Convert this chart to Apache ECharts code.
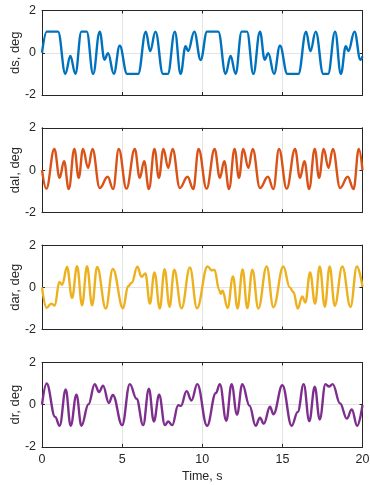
<!DOCTYPE html>
<html>
<head>
<meta charset="utf-8">
<script src="https://cdn.jsdelivr.net/npm/echarts@6/dist/echarts.min.js"></script>
<style>
html, body { margin: 0; padding: 0; background: #fff; }
#main { width: 370px; height: 485px; }
</style>
</head>
<body>
<div id="main"></div>
<script>
// turning points of each control signal (time in s, angle in deg)
var dsTime = [0, 0.3, 1.0, 1.46, 1.77, 2.08, 2.46, 2.79, 3.19, 3.6, 3.9, 4.12, 4.48, 4.85, 5.31, 6.0, 6.48, 6.75, 7.08, 7.55, 7.85, 8.29, 8.65, 8.96, 9.12, 9.5, 9.9,
  10.3, 11.0, 11.46, 11.77, 12.08, 12.46, 12.79, 13.19, 13.6, 13.9, 14.12, 14.48, 14.85, 15.31, 16.0, 16.48, 16.75, 17.08, 17.55, 17.85, 18.29, 18.65, 18.96, 19.12, 19.5, 19.87, 20];
var dsValue = [0, 1, 1, -1, -0.15, -1, 1, 1, -1, 1, -0.33, -0.02, -1, 0.33, -1, -1, 1, 0.08, 1, -1, -1, 1, -1, 0.31, 0.08, 1, -0.34,
  1, 1, -1, -0.15, -1, 1, 1, -1, 1, -0.33, -0.02, -1, 0.33, -1, -1, 1, 0.08, 1, -1, -1, 1, -1, 0.31, 0.08, 1, -0.33, -0.17];

var dalTime = [0, 0.27, 0.77, 1.1, 1.375, 1.67, 2.02, 2.29, 2.56, 2.875, 3.15, 3.6, 4.1, 4.44, 4.79,
  5.27, 5.79, 6.1, 6.375, 6.67, 7.02, 7.29, 7.58, 7.875, 8.15, 8.6, 9.08, 9.44, 9.77,
  10.27, 10.77, 11.1, 11.375, 11.67, 12.02, 12.29, 12.56, 12.875, 13.15, 13.6, 14.1, 14.44, 14.79,
  15.27, 15.79, 16.1, 16.375, 16.67, 17.02, 17.29, 17.58, 17.875, 18.15, 18.6, 19.08, 19.44, 19.77, 20];
var dalValue = [0, -0.88, 1, -0.37, 0.42, -0.9, 1, -0.37, 1, 0.1, 1, -0.85, -0.32, -0.9, 1,
  -0.88, 1, -0.37, 0.42, -0.9, 1, -0.37, 1, 0.1, 1, -0.85, -0.32, -0.9, 1,
  -0.88, 1, -0.37, 0.42, -0.9, 1, -0.37, 1, 0.1, 1, -0.85, -0.32, -0.9, 1,
  -0.88, 1, -0.37, 0.42, -0.9, 1, -0.37, 1, 0.1, 1, -0.85, -0.32, -0.9, 1, 0];

var darTime = [0, 0.29, 0.57, 0.8, 1.08, 1.26, 1.56, 1.875, 2.19, 2.5, 2.81, 3.125, 3.44, 3.98, 4.42, 5.06, 5.37, 5.6, 5.95, 6.21, 6.45, 6.73, 7.02, 7.35, 7.65, 7.96, 8.25, 8.71, 9.23, 9.67,
  10.33, 10.6, 10.76, 11.06, 11.15, 11.27, 11.58, 11.92, 12.2, 12.52, 12.81, 13.125, 13.5, 14.02, 14.44, 15.06, 15.46, 15.69, 15.96, 16.24, 16.43, 16.73, 17.04, 17.33, 17.65, 17.95, 18.27, 18.74, 19.25, 19.65, 20];
var darValue = [0, -0.97, -0.77, -0.86, 0.26, 0.12, 0.97, -0.5, 1, -0.85, 1, -0.85, 0.97, -1, 0.87, -0.99, 0.05, 0.22, 0.98, 0.5, 0.66, -0.77, 0.71, -1, 0.86, -0.92, 0.83, -0.99, 0.94, -0.99,
  0.99, 0.8, 0.84, -0.13, -0.3, -0.16, -0.98, 0.52, -1, 0.85, -0.98, 0.84, -1, 0.99, -0.94, 0.99, 0, -0.22, -1, -0.43, -0.72, 0.7, -0.77, 0.99, -0.92, 0.99, -0.87, 0.99, -0.92, 0.99, 0.03];

var drTime = [0, 0.29, 0.82, 1.1, 1.48, 1.79, 2.15, 2.46, 2.9, 3.29, 3.56, 3.81, 4.17, 4.42, 5.0, 5.48, 5.9, 6.31, 6.67, 6.98, 7.31, 7.67, 7.875, 8.125, 8.5, 8.67, 9.02, 9.33, 9.69,
  10.3, 10.85, 11.1, 11.5, 11.83, 12.17, 12.5, 12.95, 13.33, 13.6, 13.84, 14.23, 14.44, 15.0, 15.58, 15.96, 16.33, 16.68, 17.02, 17.33, 17.69, 17.91, 18.14, 18.6, 19.02, 19.33, 19.67, 20];
var drValue = [0, 1, -0.58, -1, 0.72, -1, 0.47, -1, 0.02, 0.97, 0.6, 0.9, 0.08, 0.46, -0.97, 0.97, 0.28, -0.97, 0.75, -0.8, 0.47, -0.97, -0.8, -0.97, -0.03, -0.06, 0.64, 0.2, 0.97,
  -1, 0.55, 0.97, -0.76, 0.97, -0.47, 0.97, -0.05, -1, -0.62, -0.9, -0.1, -0.46, 0.92, -1, -0.34, 0.97, -0.78, 0.85, -0.7, 0.97, 0.86, 0.97, 0.06, -0.66, -0.23, -1, -0.02];

var labels = ['ds, deg', 'dal, deg', 'dar, deg', 'dr, deg'];
var colors = ['#0072BD', '#D95319', '#EDB120', '#7E2F8E'];
var xTicks = [0, 5, 10, 15, 20];
var yTicks = [-2, 0, 2];

var times = [dsTime, dalTime, darTime, drTime];
var values = [dsValue, dalValue, darValue, drValue];

var font = 'Liberation Sans, Arial, Helvetica, sans-serif';
var ink = '#262626';

function pairs(t, v) {
  var out = [];
  for (var i = 0; i < t.length; i++) out.push([t[i], v[i]]);
  return out;
}

var grids = [], xAxes = [], yAxes = [], series = [];
for (var k = 0; k < 4; k++) {
  grids.push({ left: 42, right: 7.5, top: 10.5 + k * 117.3, height: 84.5, outerBoundsMode: 'none', containLabel: false });
  var last = k === 3;
  xAxes.push({
    type: 'value', gridIndex: k, min: xTicks[0], max: xTicks[xTicks.length - 1], interval: 5,
    axisLine: { onZero: false, lineStyle: { color: ink, width: 1 } },
    axisTick: { inside: true, length: 3, lineStyle: { color: ink } },
    axisLabel: { show: last, color: ink, fontSize: 12.5, fontFamily: font, margin: 6 },
    splitLine: { show: true, lineStyle: { color: '#e3e3e3', width: 1 } },
    name: last ? 'Time, s' : '', nameLocation: 'middle', nameGap: 23, nameMoveOverlap: false,
    nameTextStyle: { color: ink, fontSize: 12.5, fontFamily: font }
  });
  xAxes.push({
    type: 'value', gridIndex: k, position: 'top', min: 0, max: 20, interval: 5,
    axisLine: { onZero: false, lineStyle: { color: ink, width: 1 } },
    axisTick: { inside: true, length: 3, lineStyle: { color: ink } },
    axisLabel: { show: false }, splitLine: { show: false }
  });
  yAxes.push({
    type: 'value', gridIndex: k, min: yTicks[0], max: yTicks[yTicks.length - 1], interval: 2,
    axisLine: { onZero: false, show: true, lineStyle: { color: ink, width: 1 } },
    axisTick: { show: true, inside: true, length: 3, lineStyle: { color: ink } },
    axisLabel: { color: ink, fontSize: 12.5, fontFamily: font, margin: 6 },
    splitLine: { show: true, lineStyle: { color: '#e3e3e3', width: 1 } },
    name: labels[k], nameLocation: 'middle', nameGap: 20, nameMoveOverlap: false,
    nameTextStyle: { color: ink, fontSize: 13, fontFamily: font }
  });
  yAxes.push({
    type: 'value', gridIndex: k, position: 'right', min: -2, max: 2, interval: 2,
    axisLine: { onZero: false, show: true, lineStyle: { color: ink, width: 1 } },
    axisTick: { show: true, inside: true, length: 3, lineStyle: { color: ink } },
    axisLabel: { show: false }, splitLine: { show: false }
  });
  series.push({
    type: 'line', xAxisIndex: k * 2, yAxisIndex: k * 2,
    data: pairs(times[k], values[k]),
    showSymbol: false, symbol: 'none',
    smooth: 0.4, smoothMonotone: 'x',
    lineStyle: { color: colors[k], width: 2.4 },
    z: 3
  });
}

var chart = echarts.init(document.getElementById('main'), null, { renderer: 'canvas' });
chart.setOption({
  animation: false,
  backgroundColor: '#fff',
  grid: grids,
  xAxis: xAxes,
  yAxis: yAxes,
  series: series
});
</script>
</body>
</html>
